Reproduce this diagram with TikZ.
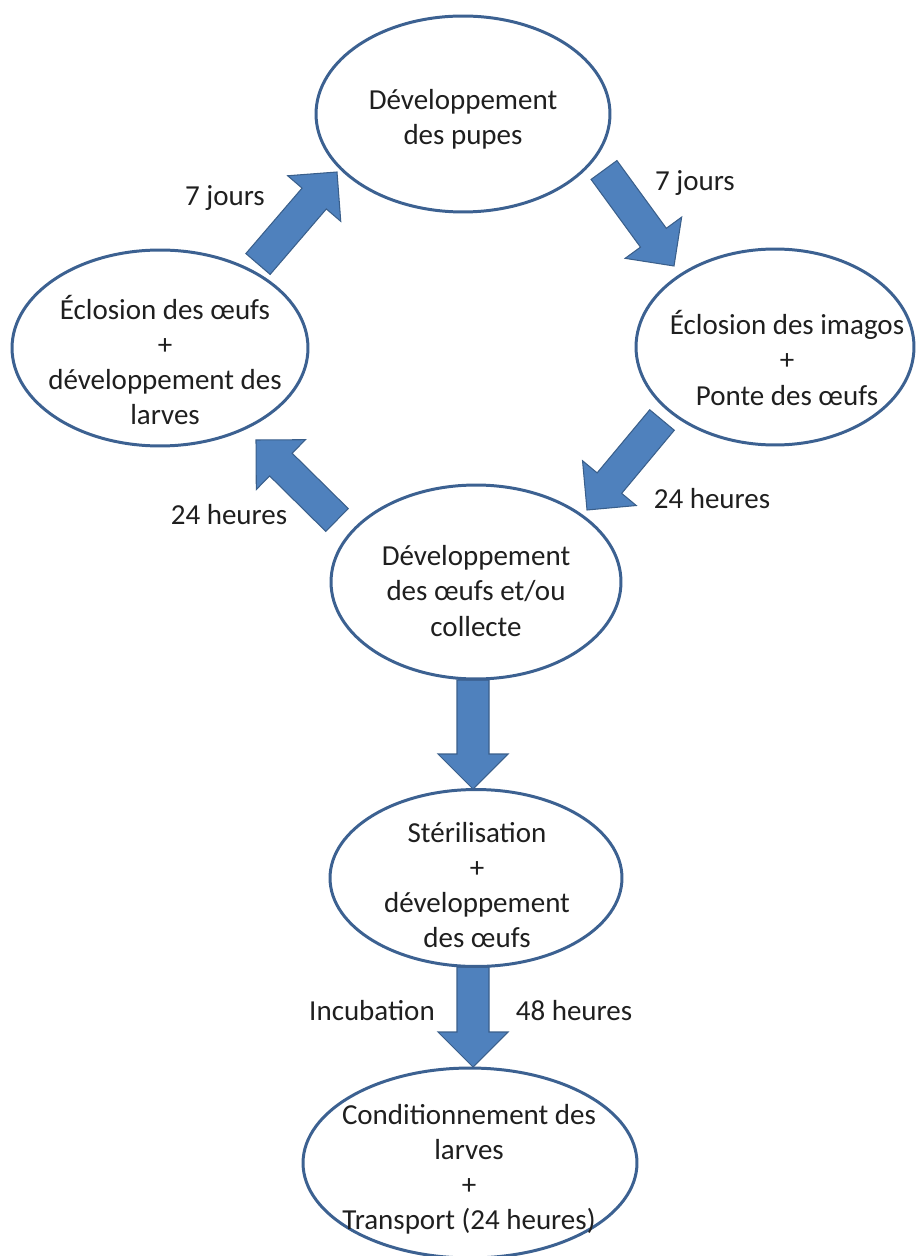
\documentclass[tikz,border=0pt]{standalone}
\usepackage{fontspec}
\setmainfont{Carlito}
\usetikzlibrary{calc,shapes.geometric}
\definecolor{ellline}{HTML}{3C6191}
\definecolor{arrfill}{HTML}{4F81BD}
\definecolor{arrline}{HTML}{3A5F8B}
\tikzset{
  ell/.style={ellipse, draw=ellline, line width=1.7pt, inner sep=0pt, fill=white},
  txt/.style={align=center, font=\fontsize{16.5}{20}\selectfont, text=black!88, inner sep=0pt},
  barrowstyle/.style={fill=arrfill, draw=arrline, line width=0.6pt, line join=miter},
}
\newcommand{\blockarrow}[2]{%
  \draw[barrowstyle] ($(#1)!0.32cm!90:(#2)$) -- ($(#2)!0.7cm!(#1)!0.32cm!90:(#2)$)
    -- ($(#2)!0.7cm!(#1)!0.7cm!90:(#2)$) -- (#2)
    -- ($(#2)!0.7cm!(#1)!0.7cm!-90:(#2)$) -- ($(#2)!0.7cm!(#1)!0.32cm!-90:(#2)$)
    -- ($(#1)!0.32cm!-90:(#2)$) -- cycle;}
\begin{document}
\begin{tikzpicture}[x=0.02cm, y=-0.02cm]
\useasboundingbox (0,0) rectangle (919,1256);
% arrow end points
\coordinate (aS) at (258,264); \coordinate (aE) at (337,172);
\coordinate (bS) at (604,170); \coordinate (bE) at (674,266);
\coordinate (cS) at (662,420); \coordinate (cE) at (587,510);
\coordinate (dS) at (337,520); \coordinate (dE) at (256,440);
\coordinate (eS) at (473,680); \coordinate (eE) at (473,789);
\coordinate (fS) at (473,967); \coordinate (fE) at (473,1067);
\blockarrow{aS}{aE}
\blockarrow{bS}{bE}
\blockarrow{cS}{cE}
\blockarrow{dS}{dE}
\blockarrow{eS}{eE}
\blockarrow{fS}{fE}
% ellipses
\node[ell, minimum width=5.88cm, minimum height=3.92cm] (top) at (463,114) {};
\node[ell, minimum width=5.92cm, minimum height=3.92cm] (left) at (160,348) {};
\node[ell, minimum width=5.56cm, minimum height=3.92cm] (right) at (775,347) {};
\node[ell, minimum width=5.80cm, minimum height=3.88cm] (mid) at (476,582) {};
\node[ell, minimum width=5.84cm, minimum height=3.54cm] (ster) at (476,878) {};
\node[ell, minimum width=6.68cm, minimum height=3.80cm] (bot) at (470,1163) {};
% texts
\node[txt] (toptxt) at (463,119) {Développement\\des pupes};
\node[txt] (lefttxt) at (165,360) {Éclosion des œufs\\+\\développement des\\larves};
\node[txt] (righttxt) at (787,358) {Éclosion des imagos\\+\\Ponte des œufs};
\node[txt] (midtxt) at (476,591) {Développement\\des œufs et/ou\\collecte};
\node[txt] (stertxt) at (477,885) {Stérilisation\\+\\développement\\des œufs};
\node[txt] (bottxt) at (469,1169) {Conditionnement des\\larves\\+\\Transport (24 heures)};
% labels
\node[txt] (la) at (225,198) {7 jours};
\node[txt] (lb) at (695,183) {7 jours};
\node[txt] (lc) at (712,499) {24 heures};
\node[txt] (ld) at (229,515) {24 heures};
\node[txt] (le) at (372,1011) {Incubation};
\node[txt] (lf) at (574,1011) {48 heures};
\end{tikzpicture}
\end{document}
